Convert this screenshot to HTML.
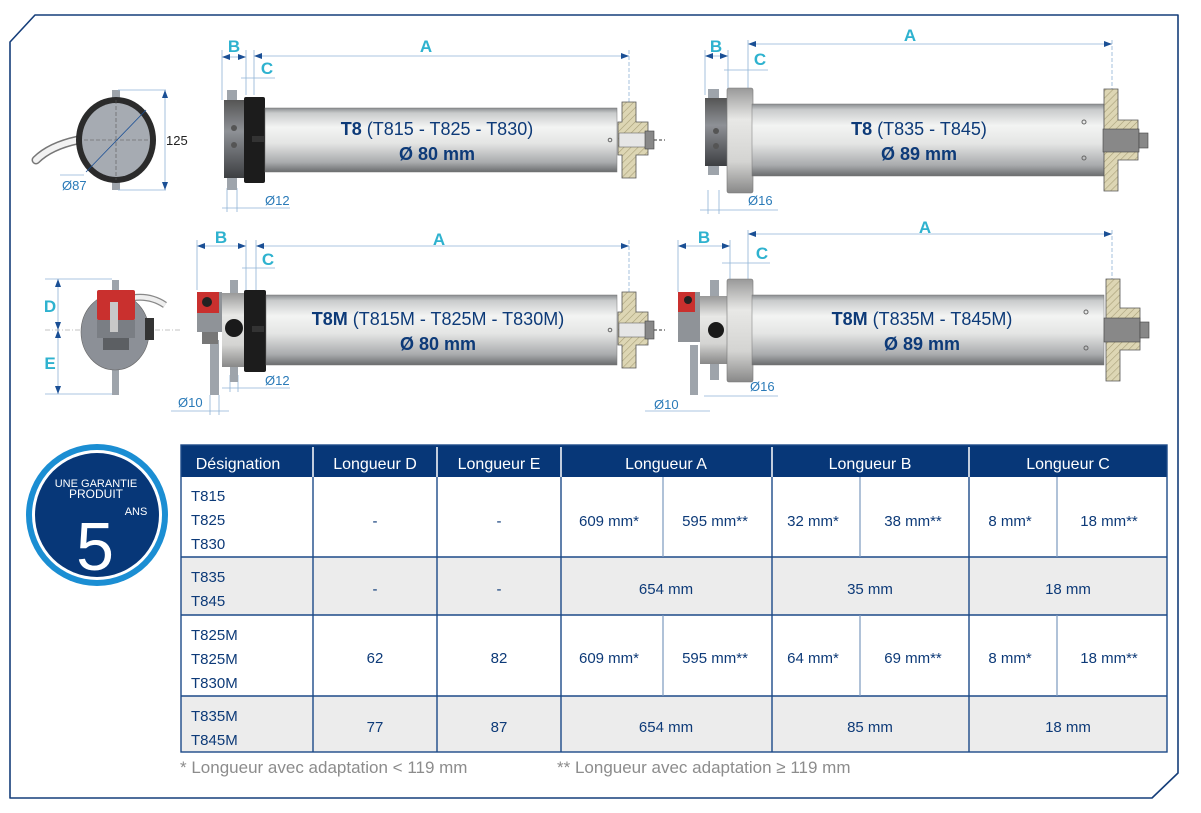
<!DOCTYPE html>
<html><head><meta charset="utf-8"><style>
html,body{margin:0;padding:0;background:#fff;}
svg{display:block;}
text{font-family:"Liberation Sans",sans-serif;}
</style></head><body>
<svg width="1201" height="813" viewBox="0 0 1201 813" xmlns="http://www.w3.org/2000/svg">
<defs>
<linearGradient id="tube" x1="0" y1="0" x2="0" y2="1">
<stop offset="0" stop-color="#8a8d90"/><stop offset="0.08" stop-color="#c9cbcc"/><stop offset="0.3" stop-color="#f3f4f3"/><stop offset="0.55" stop-color="#e4e5e4"/><stop offset="0.85" stop-color="#a9abad"/><stop offset="1" stop-color="#6a6c6e"/>
</linearGradient>
<linearGradient id="dark" x1="0" y1="0" x2="0" y2="1">
<stop offset="0" stop-color="#555"/><stop offset="0.4" stop-color="#8e9196"/><stop offset="1" stop-color="#3d3f42"/>
</linearGradient>
<linearGradient id="disk" x1="0" y1="0" x2="0" y2="1">
<stop offset="0" stop-color="#999"/><stop offset="0.3" stop-color="#e8e8e6"/><stop offset="0.7" stop-color="#d4d4d2"/><stop offset="1" stop-color="#888"/>
</linearGradient>
<pattern id="hatch" width="5" height="5" patternUnits="userSpaceOnUse" patternTransform="rotate(45)">
<rect width="5" height="5" fill="#ddd6b4"/><line x1="0" y1="0" x2="0" y2="5" stroke="#a89f78" stroke-width="1.2"/>
</pattern>
<marker id="ar" markerWidth="8" markerHeight="6" refX="8" refY="3" orient="auto-start-reverse" markerUnits="userSpaceOnUse"><path d="M0,0 L8,3 L0,6z" fill="#1a4f95"/></marker>
</defs>

<!-- frame -->
<path d="M10,42 L35,15 L1178,15 L1178,773 L1152,798 L10,798 Z" fill="none" stroke="#153e7a" stroke-width="1.6" stroke-linejoin="round"/>

<!-- Circle end view top -->
<path d="M36,160 Q50,146 78,140" stroke="#777" stroke-width="9" fill="none" stroke-linecap="round"/>
<path d="M36,160 Q50,146 78,140" stroke="#f2f2f2" stroke-width="6" fill="none" stroke-linecap="round"/>
<rect x="112" y="90" width="8" height="100" fill="#9ea4ab"/>
<ellipse cx="116" cy="140" rx="40" ry="43" fill="#2b2b2b"/>
<ellipse cx="116" cy="140" rx="34" ry="37" fill="#a6abb2"/>
<line x1="116" y1="100" x2="116" y2="180" stroke="#555" stroke-dasharray="4,2" stroke-width="0.6"/>
<line x1="84" y1="140" x2="150" y2="140" stroke="#555" stroke-dasharray="4,2" stroke-width="0.6"/>
<g stroke="#8fb3d6" stroke-width="0.8" fill="none">
<line x1="118" y1="90" x2="166" y2="90"/><line x1="118" y1="190" x2="166" y2="190"/>
<line x1="165" y1="90" x2="165" y2="190" marker-start="url(#ar)" marker-end="url(#ar)"/>
<line x1="60" y1="175" x2="84" y2="175"/>
</g>
<line x1="86" y1="172" x2="146" y2="110" stroke="#1a4f95" stroke-width="0.8"/>
<text x="166" y="145" font-size="13" fill="#222">125</text>
<text x="62" y="190" font-size="13" fill="#2a7ab8">Ø87</text>

<!-- Motor 1 (T8 80) -->
<g stroke="#8fb3d6" stroke-width="0.8" fill="none">
<line x1="222" y1="57" x2="246" y2="57" marker-start="url(#ar)" marker-end="url(#ar)"/>
<line x1="222" y1="50" x2="222" y2="100"/><line x1="246" y1="50" x2="246" y2="95"/>
<line x1="254" y1="56" x2="629" y2="56" marker-start="url(#ar)" marker-end="url(#ar)"/>
<line x1="254" y1="50" x2="254" y2="95"/><line x1="629" y1="50" x2="629" y2="102" stroke-dasharray="4,2"/>
<line x1="241" y1="78" x2="275" y2="78"/>
<line x1="222" y1="208" x2="290" y2="208"/><line x1="227" y1="188" x2="227" y2="212"/><line x1="237" y1="188" x2="237" y2="212"/>
</g>
<rect x="227" y="90" width="10" height="100" fill="#9ea4ab"/>
<rect x="224" y="100" width="20" height="78" fill="url(#dark)"/>
<rect x="244" y="97" width="21" height="86" fill="#1c1c1c" rx="2"/>
<rect x="265" y="108" width="352" height="64" fill="url(#tube)" stroke="#777" stroke-width="0.5"/>
<circle cx="234" cy="128" r="3" fill="#555"/><circle cx="234" cy="145" r="3" fill="#555"/>
<rect x="252" y="136" width="12" height="6" fill="#333"/>
<circle cx="610" cy="140" r="1.8" fill="none" stroke="#666"/>
<path d="M622,102 L636,102 L636,122 L648,122 L648,155 L636,155 L636,178 L622,178 L622,155 L618,155 L618,122 L622,122Z" fill="url(#hatch)" stroke="#555" stroke-width="0.8"/>
<rect x="619" y="133" width="27" height="14" fill="#e6e6e6" stroke="#666" stroke-width="0.6"/>
<rect x="645" y="131" width="9" height="18" fill="#888" stroke="#444" stroke-width="0.6"/>
<line x1="654" y1="140" x2="665" y2="140" stroke="#333" stroke-dasharray="3,2"/>
<text x="437" y="135" font-size="18" fill="#0d3a78" text-anchor="middle"><tspan font-weight="bold">T8</tspan> (T815 - T825 - T830)</text>
<text x="437" y="160" font-size="18" font-weight="bold" fill="#0d3a78" text-anchor="middle">Ø 80 mm</text>
<text x="234" y="52" font-size="17" font-weight="bold" fill="#2eb2cf" text-anchor="middle">B</text>
<text x="426" y="52" font-size="17" font-weight="bold" fill="#2eb2cf" text-anchor="middle">A</text>
<text x="267" y="74" font-size="17" font-weight="bold" fill="#2eb2cf" text-anchor="middle">C</text>
<text x="265" y="205" font-size="13" fill="#2a7ab8">Ø12</text>

<!-- Motor 2 (T8 89) -->
<g stroke="#8fb3d6" stroke-width="0.8" fill="none">
<line x1="748" y1="44" x2="1112" y2="44" marker-start="url(#ar)" marker-end="url(#ar)"/>
<line x1="748" y1="40" x2="748" y2="95"/><line x1="1112" y1="40" x2="1112" y2="95" stroke-dasharray="4,2"/>
<line x1="705" y1="56" x2="728" y2="56" marker-start="url(#ar)" marker-end="url(#ar)"/>
<line x1="705" y1="50" x2="705" y2="95"/><line x1="728" y1="50" x2="728" y2="95"/>
<line x1="724" y1="70" x2="768" y2="70"/>
<line x1="700" y1="210" x2="778" y2="210"/><line x1="708" y1="190" x2="708" y2="214"/><line x1="719" y1="190" x2="719" y2="214"/>
</g>
<text x="716" y="52" font-size="17" font-weight="bold" fill="#2eb2cf" text-anchor="middle">B</text>
<text x="910" y="41" font-size="17" font-weight="bold" fill="#2eb2cf" text-anchor="middle">A</text>
<text x="760" y="65" font-size="17" font-weight="bold" fill="#2eb2cf" text-anchor="middle">C</text>
<text x="748" y="205" font-size="13" fill="#2a7ab8">Ø16</text>
<rect x="708" y="89" width="11" height="86" fill="#9ea4ab"/>
<rect x="705" y="98" width="22" height="68" fill="url(#dark)"/>
<circle cx="716" cy="131" r="3" fill="#555"/><circle cx="716" cy="146" r="3" fill="#555"/>
<rect x="727" y="88" width="26" height="105" fill="url(#disk)" stroke="#777" stroke-width="0.6" rx="2"/>
<rect x="752" y="104" width="352" height="72" fill="url(#tube)" stroke="#777" stroke-width="0.5"/>
<circle cx="1084" cy="122" r="2" fill="none" stroke="#666"/><circle cx="1084" cy="158" r="2" fill="none" stroke="#666"/>
<path d="M1104,89 L1118,89 L1118,120 L1138,120 L1138,160 L1118,160 L1118,191 L1104,191Z" fill="url(#hatch)" stroke="#555" stroke-width="0.8"/>
<rect x="1103" y="129" width="36" height="23" fill="#888" stroke="#444" stroke-width="0.6"/>
<rect x="1139" y="133" width="9" height="15" fill="#888" stroke="#444" stroke-width="0.6"/>
<text x="919" y="135" font-size="18" fill="#0d3a78" text-anchor="middle"><tspan font-weight="bold">T8</tspan> (T835 - T845)</text>
<text x="919" y="160" font-size="18" font-weight="bold" fill="#0d3a78" text-anchor="middle">Ø 89 mm</text>

<!-- Side view M -->
<g stroke="#8fb3d6" stroke-width="0.8" fill="none">
<line x1="45" y1="279" x2="112" y2="279"/><line x1="45" y1="394" x2="112" y2="394"/>
<line x1="58" y1="279" x2="58" y2="330" marker-start="url(#ar)" marker-end="url(#ar)"/>
<line x1="58" y1="330" x2="58" y2="394" marker-start="url(#ar)" marker-end="url(#ar)"/>
</g>
<line x1="45" y1="330" x2="180" y2="330" stroke="#888" stroke-dasharray="5,2,1,2" stroke-width="0.6"/>
<text x="50" y="312" font-size="17" font-weight="bold" fill="#2eb2cf" text-anchor="middle">D</text>
<text x="50" y="369" font-size="17" font-weight="bold" fill="#2eb2cf" text-anchor="middle">E</text>
<rect x="112" y="280" width="7" height="115" fill="#9ea4ab"/>
<ellipse cx="115" cy="332" rx="34" ry="38" fill="#8c9097" stroke="#666" stroke-width="0.6"/>
<rect x="145" y="318" width="9" height="22" fill="#333"/>
<path d="M132,298 Q150,295 165,305" stroke="#888" stroke-width="7" fill="none"/>
<path d="M132,298 Q150,295 165,305" stroke="#eee" stroke-width="4.5" fill="none"/>
<rect x="97" y="290" width="38" height="30" fill="#c9302e" rx="2"/>
<rect x="97" y="320" width="38" height="18" fill="#7a7e84"/>
<rect x="103" y="338" width="26" height="12" fill="#5c5f63"/>
<rect x="110" y="302" width="8" height="30" fill="#c8c8c8"/>

<!-- Motor 3 (T8M 80) -->
<g stroke="#8fb3d6" stroke-width="0.8" fill="none">
<line x1="197" y1="246" x2="246" y2="246" marker-start="url(#ar)" marker-end="url(#ar)"/>
<line x1="197" y1="240" x2="197" y2="290"/><line x1="246" y1="240" x2="246" y2="290"/>
<line x1="256" y1="246" x2="629" y2="246" marker-start="url(#ar)" marker-end="url(#ar)"/>
<line x1="256" y1="240" x2="256" y2="290"/><line x1="629" y1="240" x2="629" y2="292" stroke-dasharray="4,2"/>
<line x1="242" y1="268" x2="275" y2="268"/>
<line x1="171" y1="411" x2="229" y2="411"/><line x1="222" y1="388" x2="290" y2="388"/>
<line x1="230" y1="375" x2="230" y2="392"/><line x1="238" y1="375" x2="238" y2="392"/>
<line x1="210" y1="395" x2="210" y2="415"/><line x1="219" y1="395" x2="219" y2="415"/>
</g>
<text x="221" y="243" font-size="17" font-weight="bold" fill="#2eb2cf" text-anchor="middle">B</text>
<text x="439" y="245" font-size="17" font-weight="bold" fill="#2eb2cf" text-anchor="middle">A</text>
<text x="268" y="265" font-size="17" font-weight="bold" fill="#2eb2cf" text-anchor="middle">C</text>
<text x="265" y="385" font-size="13" fill="#2a7ab8">Ø12</text>
<text x="178" y="407" font-size="13" fill="#2a7ab8">Ø10</text>
<rect x="210" y="340" width="9" height="55" fill="#9ea4ab"/>
<rect x="230" y="280" width="8" height="102" fill="#9ea4ab"/>
<rect x="197" y="292" width="25" height="40" fill="#8f9398"/>
<rect x="197" y="292" width="22" height="21" fill="#c9302e"/>
<circle cx="207" cy="302" r="5" fill="#222"/>
<rect x="202" y="332" width="16" height="12" fill="#777"/>
<rect x="222" y="293" width="24" height="74" fill="url(#disk)"/>
<circle cx="234" cy="328" r="9" fill="#1a1a1a"/>
<rect x="244" y="290" width="22" height="82" fill="#1c1c1c" rx="2"/>
<rect x="266" y="295" width="351" height="70" fill="url(#tube)" stroke="#777" stroke-width="0.5"/>
<rect x="252" y="326" width="12" height="6" fill="#333"/>
<circle cx="610" cy="330" r="1.8" fill="none" stroke="#666"/>
<path d="M622,292 L636,292 L636,312 L648,312 L648,345 L636,345 L636,368 L622,368 L622,345 L618,345 L618,312 L622,312Z" fill="url(#hatch)" stroke="#555" stroke-width="0.8"/>
<rect x="619" y="323" width="27" height="14" fill="#e6e6e6" stroke="#666" stroke-width="0.6"/>
<rect x="645" y="321" width="9" height="18" fill="#888" stroke="#444" stroke-width="0.6"/>
<line x1="654" y1="330" x2="665" y2="330" stroke="#333" stroke-dasharray="3,2"/>
<text x="438" y="325" font-size="18" fill="#0d3a78" text-anchor="middle"><tspan font-weight="bold">T8M</tspan> (T815M - T825M - T830M)</text>
<text x="438" y="350" font-size="18" font-weight="bold" fill="#0d3a78" text-anchor="middle">Ø 80 mm</text>

<!-- Motor 4 (T8M 89) -->
<g stroke="#8fb3d6" stroke-width="0.8" fill="none">
<line x1="748" y1="234" x2="1112" y2="234" marker-start="url(#ar)" marker-end="url(#ar)"/>
<line x1="748" y1="230" x2="748" y2="282"/><line x1="1112" y1="230" x2="1112" y2="280" stroke-dasharray="4,2"/>
<line x1="678" y1="246" x2="730" y2="246" marker-start="url(#ar)" marker-end="url(#ar)"/>
<line x1="678" y1="240" x2="678" y2="292"/><line x1="730" y1="240" x2="730" y2="280"/>
<line x1="722" y1="263" x2="770" y2="263"/>
<line x1="645" y1="411" x2="710" y2="411"/><line x1="704" y1="396" x2="778" y2="396"/>
</g>
<text x="704" y="243" font-size="17" font-weight="bold" fill="#2eb2cf" text-anchor="middle">B</text>
<text x="925" y="233" font-size="17" font-weight="bold" fill="#2eb2cf" text-anchor="middle">A</text>
<text x="762" y="259" font-size="17" font-weight="bold" fill="#2eb2cf" text-anchor="middle">C</text>
<text x="750" y="391" font-size="13" fill="#2a7ab8">Ø16</text>
<text x="654" y="409" font-size="13" fill="#2a7ab8">Ø10</text>
<rect x="690" y="345" width="8" height="50" fill="#9ea4ab"/>
<rect x="710" y="280" width="9" height="100" fill="#9ea4ab"/>
<rect x="678" y="292" width="22" height="50" fill="#8f9398"/>
<rect x="678" y="292" width="17" height="20" fill="#c9302e"/>
<circle cx="688" cy="300" r="4" fill="#222"/>
<rect x="700" y="296" width="27" height="68" fill="url(#disk)"/>
<circle cx="716" cy="330" r="8" fill="#1a1a1a"/>
<rect x="727" y="279" width="26" height="103" fill="url(#disk)" stroke="#777" stroke-width="0.6" rx="2"/>
<rect x="752" y="295" width="352" height="70" fill="url(#tube)" stroke="#777" stroke-width="0.5"/>
<circle cx="1086" cy="312" r="2" fill="none" stroke="#666"/><circle cx="1086" cy="348" r="2" fill="none" stroke="#666"/>
<path d="M1106,279 L1120,279 L1120,308 L1140,308 L1140,350 L1120,350 L1120,381 L1106,381Z" fill="url(#hatch)" stroke="#555" stroke-width="0.8"/>
<rect x="1104" y="318" width="36" height="24" fill="#888" stroke="#444" stroke-width="0.6"/>
<rect x="1140" y="322" width="9" height="16" fill="#888" stroke="#444" stroke-width="0.6"/>
<text x="922" y="325" font-size="18" fill="#0d3a78" text-anchor="middle"><tspan font-weight="bold">T8M</tspan> (T835M - T845M)</text>
<text x="922" y="350" font-size="18" font-weight="bold" fill="#0d3a78" text-anchor="middle">Ø 89 mm</text>

<!-- Badge -->
<circle cx="97" cy="515" r="71" fill="#1b8ed3"/>
<circle cx="97" cy="515" r="65" fill="#fff"/>
<circle cx="97" cy="515" r="62" fill="#073778"/>
<text x="96" y="487" font-size="11" fill="#fff" text-anchor="middle">UNE GARANTIE</text>
<text x="96" y="498" font-size="12" fill="#fff" text-anchor="middle">PRODUIT</text>
<text x="95" y="570" font-size="68" fill="#fff" text-anchor="middle">5</text>
<text x="136" y="515" font-size="11" fill="#fff" text-anchor="middle">ANS</text>

<!-- Table -->
<rect x="181" y="445" width="986" height="32" fill="#073778"/>
<rect x="181" y="477" width="986" height="80" fill="#fff"/>
<rect x="181" y="557" width="986" height="58" fill="#ececec"/>
<rect x="181" y="615" width="986" height="81" fill="#fff"/>
<rect x="181" y="696" width="986" height="56" fill="#ececec"/>
<g stroke="#fff" stroke-width="1.5">
<line x1="313" y1="447" x2="313" y2="477"/><line x1="437" y1="447" x2="437" y2="477"/><line x1="561" y1="447" x2="561" y2="477"/><line x1="772" y1="447" x2="772" y2="477"/><line x1="969" y1="447" x2="969" y2="477"/>
</g>
<g stroke="#1d4a88" stroke-width="1.4" fill="none">
<rect x="181" y="445" width="986" height="307"/>
<line x1="181" y1="557" x2="1167" y2="557"/><line x1="181" y1="615" x2="1167" y2="615"/><line x1="181" y1="696" x2="1167" y2="696"/>
<line x1="313" y1="477" x2="313" y2="752"/><line x1="437" y1="477" x2="437" y2="752"/><line x1="561" y1="477" x2="561" y2="752"/><line x1="772" y1="477" x2="772" y2="752"/><line x1="969" y1="477" x2="969" y2="752"/>
</g>
<g stroke="#7b98be" stroke-width="1.2">
<line x1="663" y1="477" x2="663" y2="557"/><line x1="860" y1="477" x2="860" y2="557"/><line x1="1057" y1="477" x2="1057" y2="557"/>
<line x1="663" y1="615" x2="663" y2="696"/><line x1="860" y1="615" x2="860" y2="696"/><line x1="1057" y1="615" x2="1057" y2="696"/>
</g>
<g font-size="16" fill="#fff" text-anchor="middle">
<text x="238" y="469">Désignation</text><text x="375" y="469">Longueur D</text><text x="499" y="469">Longueur E</text>
<text x="666" y="469">Longueur A</text><text x="870" y="469">Longueur B</text><text x="1068" y="469">Longueur C</text>
</g>
<g font-size="15" fill="#0d3a78">
<text x="191" y="501">T815</text><text x="191" y="525">T825</text><text x="191" y="549">T830</text>
<text x="191" y="582">T835</text><text x="191" y="606">T845</text>
<text x="191" y="640">T825M</text><text x="191" y="664">T825M</text><text x="191" y="688">T830M</text>
<text x="191" y="721">T835M</text><text x="191" y="745">T845M</text>
</g>
<g font-size="15" fill="#0d3a78" text-anchor="middle">
<text x="375" y="526">-</text><text x="499" y="526">-</text>
<text x="609" y="526">609 mm*</text><text x="715" y="526">595 mm**</text>
<text x="813" y="526">32 mm*</text><text x="913" y="526">38 mm**</text>
<text x="1010" y="526">8 mm*</text><text x="1109" y="526">18 mm**</text>
<text x="375" y="594">-</text><text x="499" y="594">-</text>
<text x="666" y="594">654 mm</text><text x="870" y="594">35 mm</text><text x="1068" y="594">18 mm</text>
<text x="375" y="663">62</text><text x="499" y="663">82</text>
<text x="609" y="663">609 mm*</text><text x="715" y="663">595 mm**</text>
<text x="813" y="663">64 mm*</text><text x="913" y="663">69 mm**</text>
<text x="1010" y="663">8 mm*</text><text x="1109" y="663">18 mm**</text>
<text x="375" y="732">77</text><text x="499" y="732">87</text>
<text x="666" y="732">654 mm</text><text x="870" y="732">85 mm</text><text x="1068" y="732">18 mm</text>
</g>
<text x="180" y="773" font-size="17" fill="#8c8c8c">* Longueur avec adaptation &lt; 119 mm</text>
<text x="557" y="773" font-size="17" fill="#8c8c8c">** Longueur avec adaptation ≥ 119 mm</text>
</svg>
</body></html>
